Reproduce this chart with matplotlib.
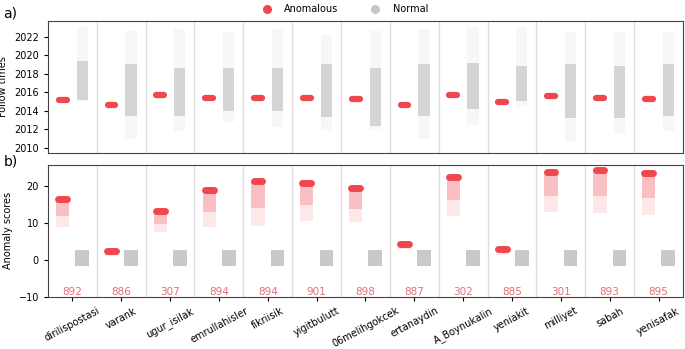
import matplotlib.pyplot as plt

accounts = ['dirilispostasi', 'varank', 'ugur_isilak', 'emrullahisler', 'fikriisik',
            'yigitbulutt', '06melihgokcek', 'ertanaydin', 'A_Boynukalin', 'yeniakit',
            'milliyet', 'sabah', 'yenisafak']
counts = [892, 886, 307, 894, 894, 901, 898, 887, 302, 885, 301, 893, 895]

# follow times (years): anomalous accounts sit in a narrow band
anom_follow = [2015.2, 2014.6, 2015.7, 2015.35, 2015.35, 2015.4, 2015.3,
               2014.6, 2015.7, 2014.9, 2015.55, 2015.35, 2015.3]
# normal accounts: faint extent and dense core
norm_follow_lo = [2015.0, 2011.0, 2011.8, 2012.8, 2012.2, 2011.9, 2012.0,
                  2011.0, 2012.5, 2014.5, 2010.6, 2011.5, 2011.8]
norm_follow_core_lo = [2015.2, 2013.4, 2013.4, 2014.0, 2014.0, 2013.3, 2012.3,
                       2013.4, 2014.2, 2015.0, 2013.2, 2013.2, 2013.4]
norm_follow_core_hi = [2019.4, 2019.0, 2018.6, 2018.6, 2018.6, 2019.1, 2018.6,
                       2019.0, 2019.2, 2018.8, 2019.0, 2018.8, 2019.0]
norm_follow_hi = [2023.0, 2022.6, 2022.8, 2022.5, 2022.8, 2022.2, 2022.6,
                  2022.8, 2023.0, 2023.0, 2022.5, 2022.5, 2022.5]

# anomaly scores: anomalous clouds (top of cloud, bottom of cloud)
anom_score_top = [16.4, 2.4, 13.3, 18.8, 21.2, 20.8, 19.4, 4.2, 22.4, 2.8, 23.6, 24.3, 23.5]
anom_score_low = [8.8, 1.0, 7.4, 8.8, 9.2, 10.6, 10.1, 2.8, 11.9, 1.4, 12.9, 12.6, 12.0]
# normal scores around zero
norm_score_lo = [-1.8] * 13
norm_score_hi = [2.6] * 13

RED = '#f0474e'
GRAY = '#c6c6c6'
FS = 7

fig, (ax1, ax2) = plt.subplots(2, 1, figsize=(6.85, 3.49), dpi=100, sharex=True)
fig.subplots_adjust(left=0.07, right=0.997, top=0.94, bottom=0.15, hspace=0.09)

xs = list(range(len(accounts)))
xa = [x - 0.2 for x in xs]
xn = [x + 0.2 for x in xs]

# --- a) follow times
ax1.bar(xn, [h - l for l, h in zip(norm_follow_lo, norm_follow_hi)], bottom=norm_follow_lo,
        width=0.23, color=GRAY, alpha=0.13, lw=0)
ax1.bar(xn, [h - l for l, h in zip(norm_follow_core_lo, norm_follow_core_hi)],
        bottom=norm_follow_core_lo, width=0.23, color=GRAY, alpha=0.7, lw=0)
ax1.hlines(anom_follow, [x - 0.08 for x in xa], [x + 0.08 for x in xa], color=RED,
           lw=4.5, capstyle='round')
ax1.set_ylim(2009.45, 2023.7)
ax1.set_yticks(range(2010, 2023, 2))
ax1.set_ylabel('Follow times', fontsize=FS)

# --- b) anomaly scores
ax2.bar(xa, [t - l for l, t in zip(anom_score_low, anom_score_top)], bottom=anom_score_low,
        width=0.27, color=RED, alpha=0.12, lw=0)
ax2.bar(xa, [(t - l) * 0.6 for l, t in zip(anom_score_low, anom_score_top)],
        bottom=[t - (t - l) * 0.6 for l, t in zip(anom_score_low, anom_score_top)],
        width=0.27, color=RED, alpha=0.25, lw=0)
ax2.hlines(anom_score_top, [x - 0.09 for x in xa], [x + 0.09 for x in xa], color=RED,
           lw=5, capstyle='round')
ax2.bar(xn, [h - l for l, h in zip(norm_score_lo, norm_score_hi)], bottom=norm_score_lo,
        width=0.28, color=GRAY, alpha=0.95, lw=0)
for x, c in zip(xs, counts):
    ax2.text(x, -8.7, str(c), color='#e0707a', ha='center', va='center', fontsize=FS + 0.5)
ax2.set_ylim(-10, 25.7)
ax2.set_yticks([-10, 0, 10, 20])
ax2.set_ylabel('Anomaly scores', fontsize=FS)

ax2.set_xlim(-0.5, len(accounts) - 0.5)
ax2.set_xticks(xs)
ax2.set_xticklabels(accounts, rotation=28, ha='center', fontsize=FS)

for ax in (ax1, ax2):
    for x in xs[:-1]:
        ax.axvline(x + 0.5, color='#dddddd', lw=1, zorder=0)
    ax.tick_params(labelsize=FS, length=3)
    for s in ax.spines.values():
        s.set_color('#444444')
ax1.tick_params(axis='x', length=0)

fig.text(0.005, 0.95, 'a)', fontsize=10)
fig.text(0.005, 0.525, 'b)', fontsize=10)

h1 = ax1.scatter([], [], color=RED, s=30, label='Anomalous')
h2 = ax1.scatter([], [], color=GRAY, s=30, label='Normal')
fig.legend(handles=[h1, h2], loc='upper center', bbox_to_anchor=(0.5, 1.015), ncol=2,
           frameon=False, fontsize=FS, columnspacing=2.8)

plt.savefig('out.png')
